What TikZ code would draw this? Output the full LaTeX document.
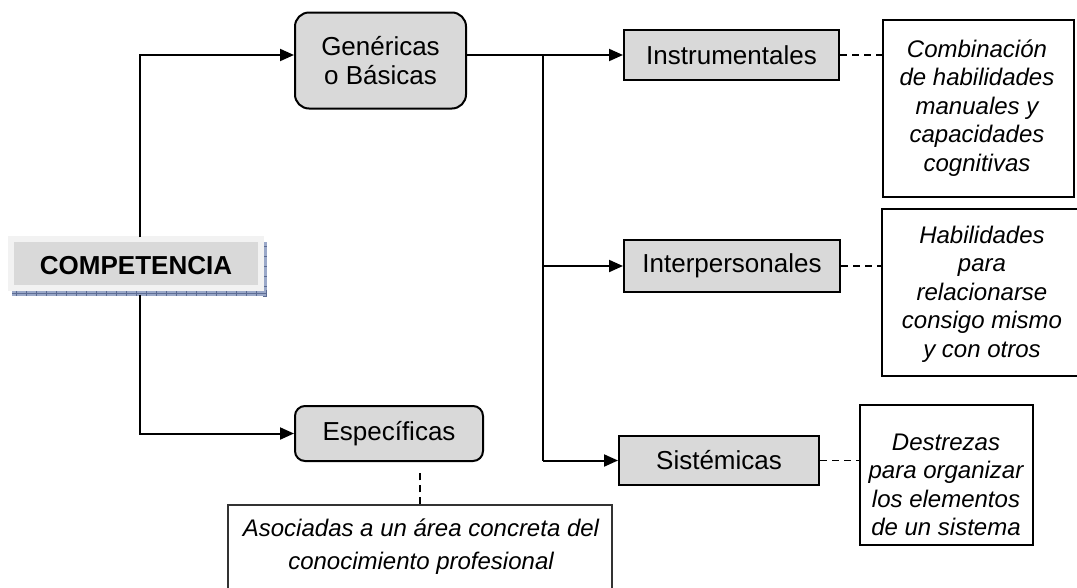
\documentclass[tikz,border=0pt]{standalone}
\usepackage{fontspec}
\setmainfont{Liberation Sans}
\usetikzlibrary{arrows.meta,calc}
\definecolor{boxgray}{HTML}{D9D9D9}
\definecolor{outergray}{HTML}{F2F2F2}
\definecolor{shadowblue}{HTML}{9AA8C8}
\definecolor{shadowline}{HTML}{5C6C94}
\newcommand{\labfont}{\fontsize{26}{29}\selectfont}
\newcommand{\notefont}{\fontsize{24}{28.5}\selectfont\itshape}
\begin{document}
\begin{tikzpicture}[x=1pt,y=-1pt,
  conn/.style={line width=2pt},
  arr/.style={conn,-{Triangle[length=14pt,width=12pt]}},
  dline/.style={line width=1.5pt,dash pattern=on 7pt off 5pt},
  gbox/.style={draw,line width=2pt,fill=boxgray,inner sep=0pt,align=center,font=\labfont},
  rbox/.style={gbox,rounded corners=12pt},
  nbox/.style={draw,line width=2pt,fill=white,inner sep=0pt},
  ntext/.style={inner sep=0pt,align=center,font=\notefont}
]
\clip (0,0) rectangle (1077,587);
\fill[white] (0,0) rectangle (1077,587);
% COMPETENCIA box with shadow
\fill[shadowblue] (12,242) rectangle (267,296);
\foreach \x in {16,26,...,266} \draw[shadowline,line width=0.5pt] (\x,290) -- (\x,296);
\foreach \y in {246,256,...,296} \draw[shadowline,line width=0.5pt] (263,\y) -- (267,\y);
\draw[shadowline,line width=0.5pt] (12,293) -- (267,293);
\fill[outergray] (8,236) rectangle (264,291);
\fill[boxgray] (14,242) rectangle (258,285);
\node[minimum width=256pt,minimum height=57pt,inner sep=0pt,font=\labfont\bfseries] (comp) at (136,266) {COMPETENCIA};
% main nodes
\node[rbox,rounded corners=14pt,minimum width=171pt,minimum height=96pt] (gen) at (380.5,60.5) {Genéricas\\o Básicas};
\node[rbox,rounded corners=10pt,minimum width=188pt,minimum height=55pt] (esp) at (389,433.5) {Específicas};
\node[gbox,minimum width=215pt,minimum height=50pt] (ins) at (731.5,55) {Instrumentales};
\node[gbox,minimum width=216pt,minimum height=52pt] (int) at (732,266) {Interpersonales};
\node[gbox,minimum width=200pt,minimum height=49pt] (sis) at (719,460.5) {Sistémicas};
% note boxes
\node[nbox,minimum width=191pt,minimum height=177pt] (n1) at (978.5,108.5) {};
\node[ntext] (t1) at (977,108) {Combinación\\de habilidades\\manuales y\\capacidades\\cognitivas};
\node[nbox,minimum width=198pt,minimum height=167pt] (n2) at (981,292.5) {};
\node[ntext] (t2) at (982,294) {Habilidades\\para\\relacionarse\\consigo mismo\\y con otros};
\node[nbox,minimum width=173pt,minimum height=140pt] (n3) at (946.5,475) {};
\node[ntext] (t3) at (946,485) {Destrezas\\para organizar\\los elementos\\de un sistema};
\node[nbox,line width=1.2pt,draw=black!80,minimum width=384pt,minimum height=130pt] (bot) at (420,570) {};
\node[ntext,font=\fontsize{24}{33}\selectfont\itshape] (tb) at (421,547) {Asociadas a un área concreta del\\conocimiento profesional};
% connectors
\coordinate (jt) at (543,55);
\coordinate (jb) at (543,460.5);
\draw[arr] ([xshift=4pt]comp.north) |- ($(gen.west)+(0,-5.5)$);
\draw[arr] ([xshift=4pt]comp.south) |- (esp.west);
\draw[conn] ($(gen.east)+(0,-5.5)$) -- (jt);
\draw[conn] (jt) -- (jb);
\draw[arr] (jt) -- (ins.west);
\draw[arr] (jt |- int.west) -- (int.west);
\draw[arr] (jb) -- (sis.west);
\draw[dline] (ins.east) -- (ins.east -| n1.west);
\draw[dline] (int.east) -- (int.east -| n2.west);
\draw[dline] (sis.east) -- (sis.east -| n3.west);
\draw[dline,shorten >=8pt] (bot.north) -- (bot.north |- esp.south);
\end{tikzpicture}
\end{document}
